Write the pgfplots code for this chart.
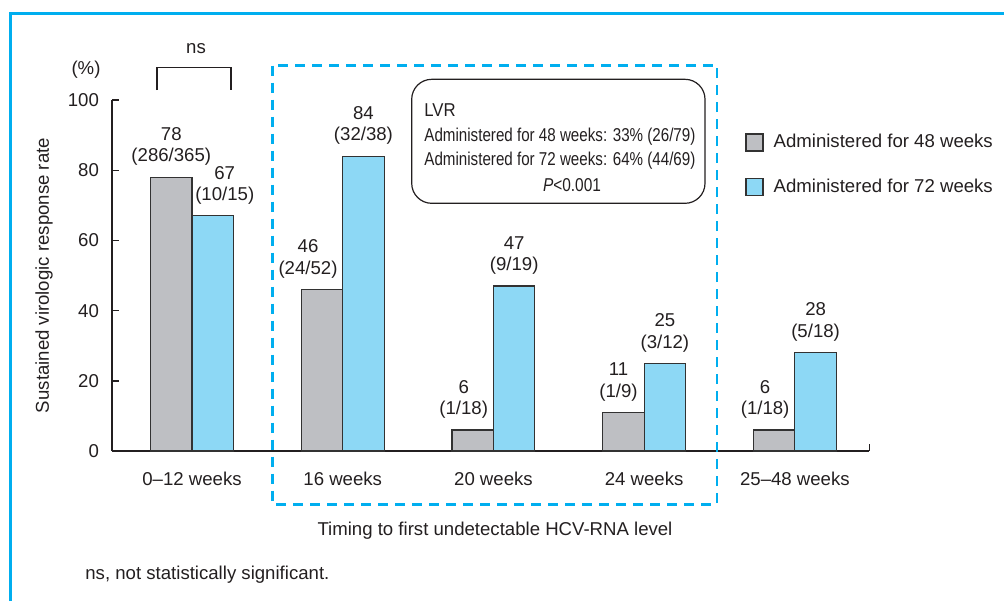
\documentclass[border=0pt]{standalone}
\usepackage{fontspec}
\setmainfont{Liberation Sans}
\usepackage{graphicx}
\usepackage{pgfplots}
\pgfplotsset{compat=1.18}
\usepackage{pgfplotstable}
\definecolor{frameblue}{RGB}{0,174,239}
\definecolor{barblue}{RGB}{141,216,245}
\definecolor{bargray}{RGB}{190,191,195}
\definecolor{txt}{RGB}{35,31,32}
\definecolor{edge}{RGB}{50,50,50}
\pgfplotsset{sqlegend/.style={legend image code/.code={\draw[##1] (0pt,-4.25pt) rectangle (8.5pt,4.25pt);}}}

\pgfplotstableread{
x y
0 78
1 46
2 6
3 11
4 6
}\wkfortyeight
\pgfplotstableread{
x y
0 67
1 84
2 47
3 25
4 28
}\wkseventytwo

\begin{document}
\begin{tikzpicture}[x=0.5pt,y=-0.5pt,
  every node/.style={font=\fontsize{9.3}{10.75}\selectfont, text=txt}]
\useasboundingbox (0,0) rectangle (1004,601);
% outer frame
\draw[frameblue, line width=1.5pt] (10,601) -- (10,13) -- (1004,13);

\begin{axis}[
  at={(56pt,-225.5pt)}, anchor=south west,
  scale only axis, width=378.65pt, height=175.5pt,
  xmin=-0.531, xmax=4.494, ymin=0, ymax=100,
  axis lines*=left,
  axis line style={draw=txt, line width=0.7pt},
  ytick={0,20,...,100},
  xtick={0,...,4},
  xticklabels={0--12 weeks, 16 weeks, 20 weeks, 24 weeks, 25--48 weeks},
  tick align=inside,
  major tick length=3.5pt,
  y tick style={draw=txt, line width=0.7pt},
  x tick style={draw=none},
  /pgf/number format/assume math mode=true,
  yticklabel style={xshift=-3pt},
  xticklabel style={yshift=-7pt},
  every axis y label/.style={at={(axis description cs:-0.0898,0.5)}, rotate=90, anchor=center},
  ylabel={Sustained virologic response rate},
  every axis x label/.style={at={(axis description cs:0.5057,-0.228)}, anchor=center},
  xlabel={Timing to first undetectable HCV-RNA level},
  legend style={at={(0.8359,0.915)}, anchor=north west, draw=none, fill=none,
    inner sep=0pt, row sep=10pt, nodes={inner sep=2pt},
    /tikz/every odd column/.append style={column sep=3pt}},
  legend cell align=left,
  clip=false,
]
\addplot[ybar, bar width=0.275, bar shift=-0.1375, fill=bargray, draw=edge, line width=0.6pt, sqlegend]
  table[x=x,y=y] {\wkfortyeight};
\addlegendentry{Administered for 48 weeks}
\addplot[ybar, bar width=0.275, bar shift=0.1375, fill=barblue, draw=edge, line width=0.6pt, sqlegend]
  table[x=x,y=y] {\wkseventytwo};
\addlegendentry{Administered for 72 weeks}

% value labels
\begin{scope}[every node/.append style={anchor=south, align=center, inner sep=0pt, yshift=5.5pt}]
\node at (axis cs:-0.1375,78) {78\\(286/365)};
\node[xshift=6pt] at (axis cs:0.1375,67) {67\\(10/15)};
\node[xshift=-7pt] at (axis cs:0.8625,46) {46\\(24/52)};
\node at (axis cs:1.1375,84) {84\\(32/38)};
\node[xshift=-4.5pt] at (axis cs:1.8625,6) {6\\(1/18)};
\node at (axis cs:2.1375,47) {47\\(9/19)};
\node[xshift=-2.5pt] at (axis cs:2.8625,11) {11\\(1/9)};
\node at (axis cs:3.1375,25) {25\\(3/12)};
\node[xshift=-4.5pt] at (axis cs:3.8625,6) {6\\(1/18)};
\node at (axis cs:4.1375,28) {28\\(5/18)};
\end{scope}
\draw[txt, line width=0.7pt] (axis cs:4.494,0) -- ++(0pt,3.5pt);
\end{axis}

% dashed highlight box
\draw[frameblue, line width=1.3pt, dash pattern=on 5pt off 3.5pt] (272.7,65.7) rectangle (717,504.3);

% LVR box
\draw[txt, line width=0.6pt, rounded corners=10pt] (411.7,79.3) rectangle (705,203.3);
\node[anchor=west, inner sep=0pt] at (424,110) {\scalebox{0.9}[1]{LVR}};
\node[anchor=west, inner sep=0pt] at (424,137) {\scalebox{0.815}[1]{Administered for 48 weeks: 33\% (26/79)}};
\node[anchor=west, inner sep=0pt] at (424,160.7) {\scalebox{0.815}[1]{Administered for 72 weeks: 64\% (44/69)}};
\node[inner sep=0pt] at (572,185) {\scalebox{0.83}[1]{\textit{P}<0.001}};

% ns bracket
\draw[txt, line width=0.6pt] (157,90) -- (157,67.7) -- (231,67.7) -- (231,90);
\node at (196,49) {ns};
\node at (86,70) {(\%)};

% footnote
\node[anchor=west, inner sep=0pt] at (85,575) {ns, not statistically significant.};
\end{tikzpicture}
\end{document}
